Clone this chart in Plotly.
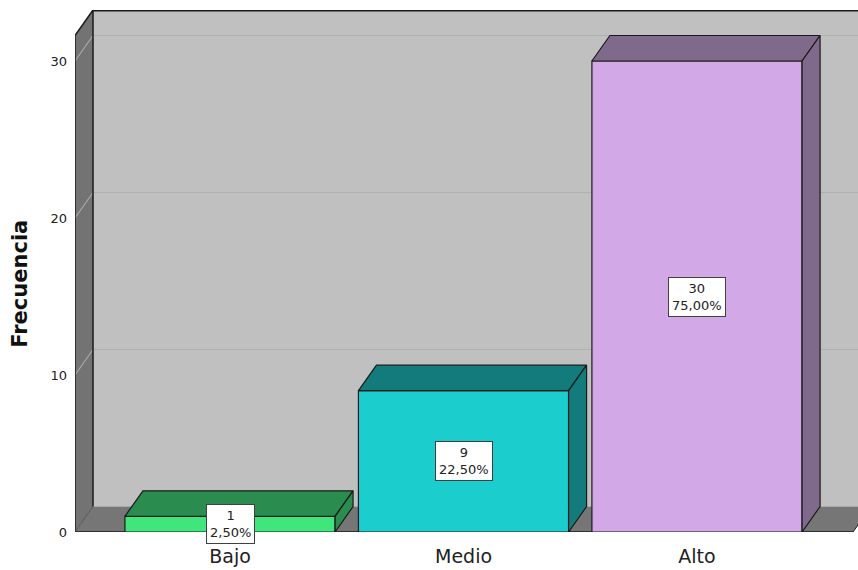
import plotly.graph_objects as go

categories = ["Bajo", "Medio", "Alto"]
counts = [1, 9, 30]
percents = ["2,50%", "22,50%", "75,00%"]
front_colors = ["#3fe67c", "#1ccdcd", "#d2a9e6"]
dark_colors = ["#2a8c4e", "#137b7b", "#806a8c"]
y_ticks = [0, 10, 20, 30]

# layout geometry
W, H = 858, 570
ml, mr, mt, mb = 75, 0, 10, 38
plot_w = W - ml - mr
plot_h = H - mt - mb
px_per_x = 233.5
px_per_y = 15.7
x_lo = -155 / px_per_x
x_hi = x_lo + plot_w / px_per_x
y_hi = plot_h / px_per_y
dx = 18 / px_per_x
dy = 25.5 / px_per_y
bar_w = 0.9
floor_right = x_lo + 778 / px_per_x
wall_top = y_hi - dy
x_far = x_hi + 1

xs = list(range(len(categories)))

fig = go.Figure()

shapes = []
# back wall
shapes.append(dict(type="rect", xref="x", yref="y", layer="below",
                   x0=x_lo + dx, x1=x_far, y0=dy, y1=y_hi,
                   fillcolor="#c0c0c0", line=dict(width=0)))
# floor
shapes.append(dict(type="path", xref="x", yref="y", layer="below",
                   path=f"M {x_lo},0 L {floor_right},0 L {floor_right+dx},{dy} L {x_lo+dx},{dy} Z",
                   fillcolor="#767676", line=dict(width=0)))
# left wall
shapes.append(dict(type="path", xref="x", yref="y", layer="below",
                   path=f"M {x_lo},0 L {x_lo},{wall_top} L {x_lo+dx},{y_hi} L {x_lo+dx},{dy} Z",
                   fillcolor="#737373", line=dict(width=0)))
# gridlines
for v in y_ticks[1:]:
    shapes.append(dict(type="line", xref="x", yref="y", layer="below",
                       x0=x_lo + dx, x1=x_far, y0=v + dy, y1=v + dy,
                       line=dict(color="#b0b0b0", width=1.2)))
    shapes.append(dict(type="line", xref="x", yref="y", layer="below",
                       x0=x_lo, x1=x_lo + dx, y0=v, y1=v + dy,
                       line=dict(color="#a8a8a8", width=1.2)))
# edges
edge = dict(color="#1a1a1a", width=1.5)
shapes.append(dict(type="line", xref="x", yref="y", layer="below",
                   x0=x_lo, x1=x_lo, y0=0, y1=wall_top, line=edge))
shapes.append(dict(type="line", xref="x", yref="y", layer="below",
                   x0=x_lo + dx, x1=x_lo + dx, y0=dy, y1=y_hi, line=edge))
shapes.append(dict(type="line", xref="x", yref="y", layer="below",
                   x0=x_lo, x1=x_lo + dx, y0=wall_top, y1=y_hi, line=edge))
shapes.append(dict(type="line", xref="x", yref="y", layer="below",
                   x0=x_lo + dx, x1=x_far, y0=y_hi - 0.05, y1=y_hi - 0.05, line=edge))
shapes.append(dict(type="line", xref="x", yref="y", layer="below",
                   x0=x_lo, x1=x_lo + dx, y0=0, y1=dy, line=dict(color="#555", width=1)))
shapes.append(dict(type="line", xref="x", yref="y", layer="below",
                   x0=x_lo, x1=floor_right, y0=0, y1=0, line=edge))
shapes.append(dict(type="line", xref="x", yref="y", layer="below",
                   x0=floor_right, x1=floor_right + dx, y0=0, y1=dy, line=dict(color="#1a1a1a", width=1)))

# front faces
fig.add_trace(go.Bar(x=xs, y=counts, width=bar_w,
                     marker=dict(color=front_colors, line=dict(color="#1a1a1a", width=1.2)),
                     hoverinfo="skip", showlegend=False))

# top and side faces
for x, v, dc in zip(xs, counts, dark_colors):
    x0, x1 = x - bar_w / 2, x + bar_w / 2
    fig.add_trace(go.Scatter(
        x=[x0, x0 + dx, x1 + dx, x1, x0],
        y=[v, v + dy, v + dy, v, v],
        fill="toself", fillcolor=dc, mode="lines",
        line=dict(color="#1a1a1a", width=1.2), hoverinfo="skip", showlegend=False))
    fig.add_trace(go.Scatter(
        x=[x1, x1, x1 + dx, x1 + dx, x1],
        y=[0, v, v + dy, dy, 0],
        fill="toself", fillcolor=dc, mode="lines",
        line=dict(color="#1a1a1a", width=1.2), hoverinfo="skip", showlegend=False))

annotations = []
for x, v, p in zip(xs, counts, percents):
    annotations.append(dict(x=x, y=v / 2, xref="x", yref="y",
                            text=f"{v}<br>{p}", showarrow=False,
                            font=dict(family="DejaVu Sans", size=13, color="#222"),
                            bgcolor="white", bordercolor="#404040",
                            borderwidth=1, borderpad=3))
# y axis title, centred on the front wall height
annotations.append(dict(x=(20 - ml) / plot_w, xref="paper", xanchor="center",
                        y=wall_top / 2, yref="y", yanchor="middle",
                        text="<b>Frecuencia</b>", textangle=-90, showarrow=False,
                        font=dict(family="DejaVu Sans", size=21, color="#111")))

fig.update_layout(
    width=W, height=H,
    margin=dict(l=ml, r=mr, t=mt, b=mb),
    paper_bgcolor="white", plot_bgcolor="white",
    shapes=shapes, annotations=annotations,
    bargap=0,
    font=dict(family="DejaVu Sans", color="#222"),
    xaxis=dict(range=[x_lo, x_hi], tickvals=xs, ticktext=categories,
               showgrid=False, zeroline=False, showline=False, ticks="",
               tickfont=dict(size=19, color="#222"), ticklabelstandoff=11),
    yaxis=dict(range=[0, y_hi], tickvals=y_ticks, showgrid=False, zeroline=False,
               showline=False, ticks="", tickfont=dict(size=13, color="#222"),
               ticklabelstandoff=7),
)

fig.write_html("out.html", config={"displayModeBar": False, "staticPlot": True},
               post_script="document.body.style.margin='0';document.body.style.overflow='hidden';")
